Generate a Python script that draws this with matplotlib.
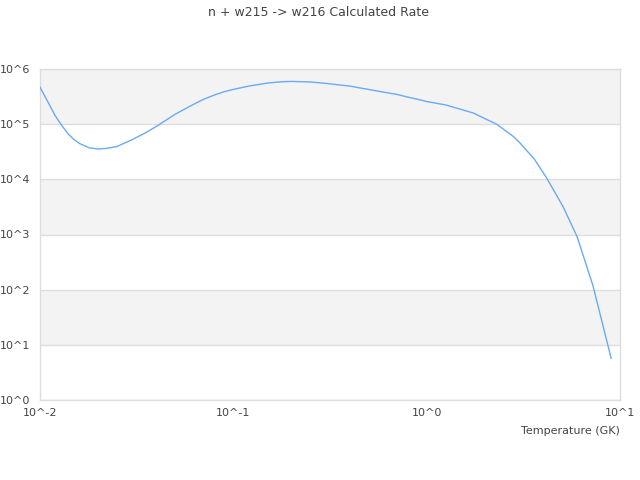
import matplotlib
matplotlib.use("Agg")
import matplotlib.pyplot as plt

title = "n + w215 -> w216 Calculated Rate"
xlabel = "Temperature (GK)"

temperature = [0.01, 0.011, 0.012, 0.013, 0.014, 0.015, 0.016, 0.018, 0.02,
               0.022, 0.025, 0.03, 0.035, 0.04, 0.05, 0.06, 0.07, 0.08, 0.09,
               0.1, 0.12, 0.15, 0.18, 0.2, 0.25, 0.3, 0.4, 0.5, 0.6, 0.7, 0.8,
               0.9, 1.0, 1.25, 1.5, 1.75, 2.0, 2.3, 2.8, 3.0, 3.6, 4.2, 5.1,
               6.0, 7.25, 9.0]
log_rate = [5.67, 5.40, 5.15, 4.97, 4.82, 4.72, 4.65, 4.57, 4.55,
            4.56, 4.595, 4.72, 4.84, 4.96, 5.18, 5.33, 5.45, 5.53, 5.59,
            5.63, 5.69, 5.745, 5.77, 5.775, 5.765, 5.74, 5.69, 5.63, 5.58, 5.54, 5.49,
            5.45, 5.41, 5.35, 5.27, 5.20, 5.10, 5.00, 4.78, 4.68, 4.37, 4.01, 3.49,
            2.96, 2.07, 0.755]
rate = [10 ** v for v in log_rate]

xticks = [0.01, 0.1, 1, 10]
xtick_labels = ["10^-2", "10^-1", "10^0", "10^1"]
yticks = [1, 10, 100, 1e3, 1e4, 1e5, 1e6]
ytick_labels = ["10^0", "10^1", "10^2", "10^3", "10^4", "10^5", "10^6"]
bands = [(1e5, 1e6), (1e3, 1e4), (10, 100)]

text_color = "#444444"
fig = plt.figure(figsize=(6.4, 4.8), dpi=100)
ax = fig.add_axes([40 / 640, 80 / 480, 580 / 640, 331 / 480])
ax.set_xscale("log")
ax.set_yscale("log")
ax.set_xlim(0.01, 10)
ax.set_ylim(1, 1e6)

for lo, hi in bands:
    ax.axhspan(lo, hi, color="#f3f3f3", zorder=0, lw=0)
for y in yticks:
    ax.axhline(y, color="#dddddd", lw=1, zorder=1)

ax.plot(temperature, rate, color="#6aaaf5", lw=1, zorder=3)

ax.set_xticks(xticks)
ax.set_xticklabels(xtick_labels)
ax.set_yticks(yticks)
ax.set_yticklabels(ytick_labels)
ax.minorticks_off()
ax.tick_params(axis="both", length=0, labelsize=8, colors=text_color, pad=7)
ax.tick_params(axis="x", pad=6)
for s in ax.spines.values():
    s.set_color("#dddddd")
    s.set_linewidth(1)

ax.set_xlabel(xlabel, fontsize=8, color=text_color)
ax.xaxis.set_label_coords(1.0, -0.08)
ax.xaxis.label.set_horizontalalignment("right")

fig.text(318 / 640, 1 - 12 / 480, title, ha="center", va="center", fontsize=9, color=text_color)

fig.savefig("out.png", dpi=100)
